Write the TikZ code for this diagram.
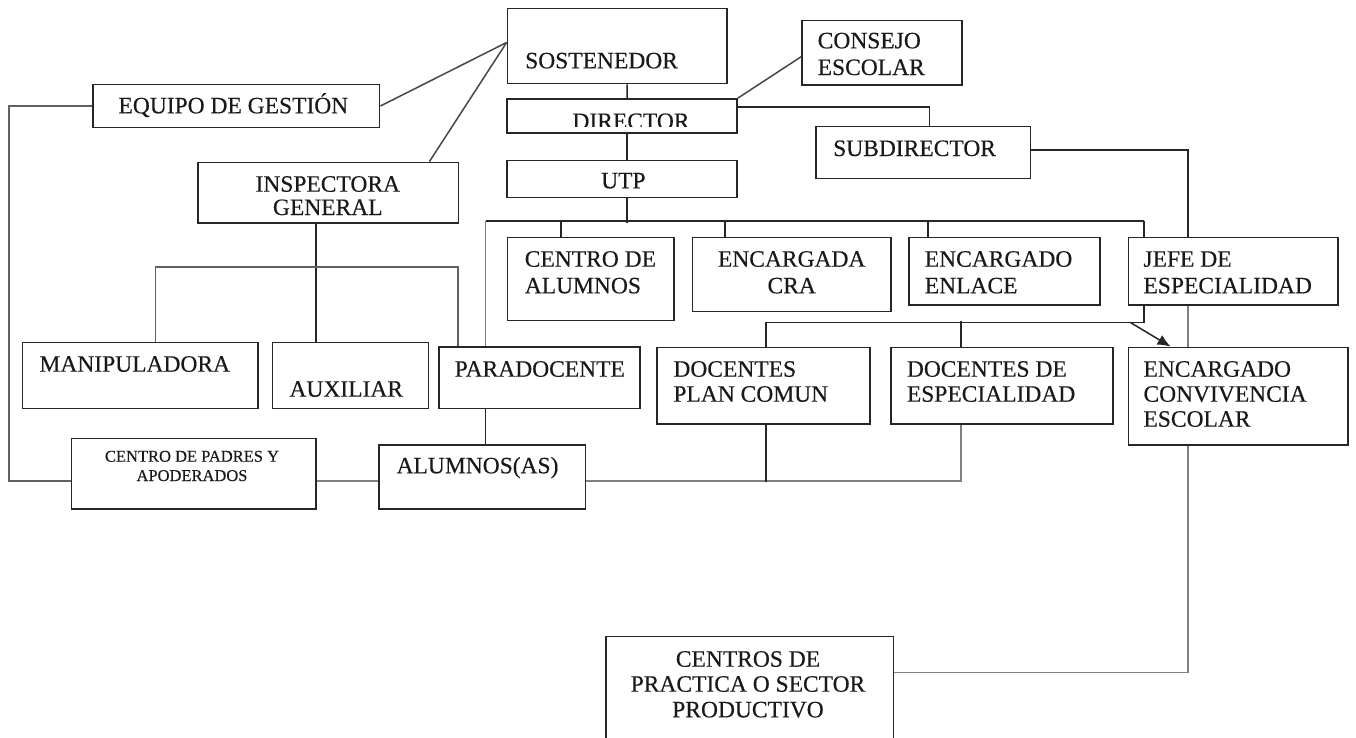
\documentclass[tikz,border=0pt]{standalone}
\usepackage{fontspec}
\setmainfont{Liberation Serif}[FakeBold=0.3]
\usetikzlibrary{fit,arrows.meta}
\begin{document}
\begin{tikzpicture}[x=1pt,y=-1pt,
  box/.style={draw=black!85, line width=1.8pt, inner sep=0pt, fit={#1}},
  txt/.style={font=\fontsize{23.5}{26}\selectfont, inner sep=0pt, text=black!90},
  small/.style={font=\fontsize{16.5}{19}\selectfont, inner sep=0pt, text=black!90},
  conn/.style={draw=black!85, line width=1.5pt},
  connd/.style={draw=black!72, line width=1.5pt},
  connm/.style={draw=black!62, line width=1.5pt},
  connl/.style={draw=black!50, line width=1.5pt}]
\clip (0,0) rectangle (1356,737);
\fill[white] (0,0) rectangle (1356,737);

% ---------- boxes ----------
\node[box={(507.5,8.5)(727,83.5)}] (sost) {};
\node[box={(802,20.5)(962,85)}] (consejo) {};
\node[box={(507,99)(737,133)}] (dir) {};
\node[box={(507,160.5)(737,197.5)}] (utp) {};
\node[box={(93,84.5)(379.5,127.5)}] (equipo) {};
\node[box={(198,162.5)(458.5,223)}] (insp) {};
\node[box={(816,126.5)(1030.5,178.5)}] (sub) {};
\node[box={(507.5,237.5)(674,320.5)}] (calum) {};
\node[box={(692.5,237.5)(891,311.5)}] (cra) {};
\node[box={(909,237.5)(1100,305)}] (enlace) {};
\node[box={(1128.5,237.5)(1338,305)}] (jefe) {};
\node[box={(22.5,342.5)(258,408.5)}] (manip) {};
\node[box={(272.5,342.5)(428.5,408.5)}] (aux) {};
\node[box={(439,347)(640,408.5)}] (para) {};
\node[box={(657,347.5)(870,424)}] (plan) {};
\node[box={(891,347.5)(1113,424)}] (esp) {};
\node[box={(1128.5,347.5)(1348,445)}] (conv) {};
\node[box={(71.5,438.5)(316,509)}] (padres) {};
\node[box={(379,445)(585.5,509)}] (alum) {};
\node[box={(606,636.5)(893.5,760)}] (centros) {};

% ---------- texts ----------
\node[txt, anchor=base west] (t-sost) at (525,68.3) {SOSTENEDOR};
\node[txt, anchor=base west] (t-cons1) at (817.5,48.3) {CONSEJO};
\node[txt, anchor=base west] (t-cons2) at (817.5,75) {ESCOLAR};
\begin{scope}
  \clip (508,100) rectangle (736,126.5);
  \node[txt, anchor=base] (t-dir) at (631,129) {DIRECTOR};
\end{scope}
\node[txt, anchor=base] (t-utp) at (623.4,188.3) {UTP};
\node[txt, anchor=base west] (t-equipo) at (118.3,113.3) {EQUIPO DE GESTIÓN};
\node[txt, anchor=base] (t-insp1) at (327.8,191.7) {INSPECTORA};
\node[txt, anchor=base] (t-insp2) at (327.8,215) {GENERAL};
\node[txt, anchor=base west] (t-sub) at (833,156) {SUBDIRECTOR};
\node[txt, anchor=base west] (t-calum1) at (524.6,266.7) {CENTRO DE};
\node[txt, anchor=base west] (t-calum2) at (524.6,293.3) {ALUMNOS};
\node[txt, anchor=base] (t-cra1) at (791.7,266.7) {ENCARGADA};
\node[txt, anchor=base] (t-cra2) at (791.7,293.3) {CRA};
\node[txt, anchor=base west] (t-enl1) at (924.6,266.7) {ENCARGADO};
\node[txt, anchor=base west] (t-enl2) at (924.6,293.3) {ENLACE};
\node[txt, anchor=base west] (t-jefe1) at (1143.3,266.7) {JEFE DE};
\node[txt, anchor=base west] (t-jefe2) at (1143.3,293.3) {ESPECIALIDAD};
\node[txt, anchor=base west] (t-manip) at (39.3,371.7) {MANIPULADORA};
\node[txt, anchor=base west] (t-aux) at (289.3,396.7) {AUXILIAR};
\node[txt, anchor=base west] (t-para) at (454.5,376.7) {PARADOCENTE};
\node[txt, anchor=base west] (t-plan1) at (673.2,376.7) {DOCENTES};
\node[txt, anchor=base west] (t-plan2) at (673.2,401.7) {PLAN COMUN};
\node[txt, anchor=base west] (t-esp1) at (906.7,376.7) {DOCENTES DE};
\node[txt, anchor=base west] (t-esp2) at (906.7,401.7) {ESPECIALIDAD};
\node[txt, anchor=base west] (t-conv1) at (1143.3,376.7) {ENCARGADO};
\node[txt, anchor=base west] (t-conv2) at (1143.3,401.7) {CONVIVENCIA};
\node[txt, anchor=base west] (t-conv3) at (1143.3,426.7) {ESCOLAR};
\node[small, anchor=base] (t-padres1) at (192,461.7) {CENTRO DE PADRES Y};
\node[small, anchor=base] (t-padres2) at (192,481) {APODERADOS};
\node[txt, anchor=base west] (t-alum) at (396.4,473.3) {ALUMNOS(AS)};
\node[txt, anchor=base] (t-cent1) at (748,666.7) {CENTROS DE};
\node[txt, anchor=base] (t-cent2) at (748,691.7) {PRACTICA O SECTOR};
\node[txt, anchor=base] (t-cent3) at (748,717.3) {PRODUCTIVO};

% ---------- connectors ----------
\draw[connd] (equipo.east) -- ([yshift=3.5pt]sost.west);
\draw[connd] ([xshift=-30pt]insp.north east) -- ([yshift=3.5pt]sost.west);
\draw[conn] ([xshift=10pt]sost.south) -- ([xshift=5pt]dir.north);
\draw[connd] ([yshift=-4pt]consejo.west) -- (dir.north east);
\draw[conn] ([yshift=9pt]dir.east) -| ([xshift=6pt]sub.north);
\draw[conn] ([xshift=5pt]dir.south) -- ([xshift=5pt]utp.north);
\draw[conn] ([xshift=5pt]utp.south) -- ++(0,24.5);
\draw[conn] ([xshift=47.5pt,yshift=125pt]para.north west) -- ([xshift=16.5pt,yshift=15.5pt]jefe.north west);
\draw[connl] ([xshift=47.5pt]para.north west) -- ++(0,-125);
\draw[conn] ([xshift=16.5pt]jefe.north west) -- ++(0,-15.5);
\draw[conn] ([xshift=54.5pt]calum.north west) -- ++(0,-15.5);
\draw[conn] ([xshift=33.5pt]cra.north west) -- ++(0,-15.5);
\draw[conn] ([xshift=20pt]enlace.north west) -- ++(0,-15.5);

\draw[conn] ([yshift=2.5pt]sub.east) -| ([xshift=60.5pt]jefe.north west);
\draw[connl] ([xshift=60.5pt]jefe.south west) -- ([xshift=60.5pt]conv.north west);
\draw[connl] ([xshift=60.5pt]conv.south west) |- ([yshift=-37pt]centros.north east);

\draw[conn] ([xshift=16.5pt]jefe.south west) -- ++(0,16.7) -| ([xshift=110pt]plan.north west);
\draw[conn] ([xshift=71pt]esp.north west) -- ++(0,-25.8);
\draw[conn, -{Latex[length=13pt,width=11pt]}] ([xshift=3pt,yshift=-16.7pt]jefe.south west) -- ([xshift=43pt]conv.north west);

\draw[conn] ([xshift=44.5pt]aux.north west) -- ([xshift=44.5pt]aux.north west |- insp.south);
\draw[connm] ([xshift=134pt]manip.north west) -- ++(0,-74.5) -| ([xshift=20pt]para.north west);
\draw[conn] ([xshift=47.5pt]para.south west) -- ([xshift=47.5pt]para.south west |- alum.north);

\draw[connm] (equipo.west) -- ++(-83,0) |- ([yshift=-7.25pt]padres.west);
\draw[connl] ([yshift=-7.25pt]padres.east) -- ([yshift=-4pt]alum.west);
\draw[connl] ([yshift=-4pt]alum.east) -| ([xshift=71pt]esp.south west);
\draw[conn] ([xshift=110pt]plan.south west) -- ++(0,57);
\end{tikzpicture}
\end{document}
